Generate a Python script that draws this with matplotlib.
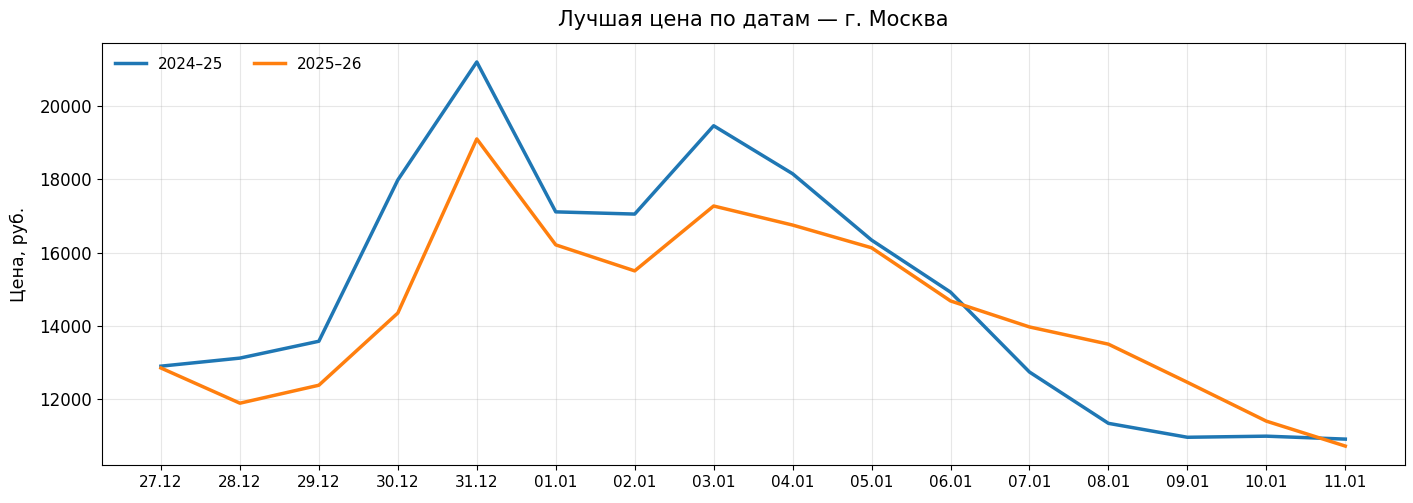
import matplotlib
matplotlib.use("Agg")
import matplotlib.pyplot as plt

# ── Data ────────────────────────────────────────────────────────────────────
dates = ["27.12", "28.12", "29.12", "30.12", "31.12", "01.01", "02.01", "03.01",
         "04.01", "05.01", "06.01", "07.01", "08.01", "09.01", "10.01", "11.01"]
price_2425 = [12900, 13120, 13580, 17980, 21200, 17110, 17050, 19460,
              18150, 16340, 14920, 12740, 11340, 10960, 10990, 10910]
price_2526 = [12850, 11890, 12380, 14350, 19100, 16210, 15500, 17270,
              16750, 16130, 14680, 13970, 13500, 12460, 11400, 10720]

# ── Plot ────────────────────────────────────────────────────────────────────
fig, ax = plt.subplots(figsize=(14.13, 5.03), dpi=100)
x = range(len(dates))
ax.plot(x, price_2425, color="#1f77b4", linewidth=2.5, label="2024–25")
ax.plot(x, price_2526, color="#ff7f0e", linewidth=2.5, label="2025–26")

ax.set_xticks(list(x))
ax.set_xticklabels(dates, fontsize=11)
ax.tick_params(axis="y", labelsize=12)
ax.set_ylabel("Цена, руб.", fontsize=12.5, labelpad=8)
ax.set_title("Лучшая цена по датам — г. Москва", fontsize=15, pad=12)
ax.grid(True, alpha=0.3)
ax.legend(loc="upper left", ncol=2, frameon=False, fontsize=11)

fig.subplots_adjust(left=0.072, right=0.994, top=0.915, bottom=0.075)
fig.savefig("out.png", dpi=100)
